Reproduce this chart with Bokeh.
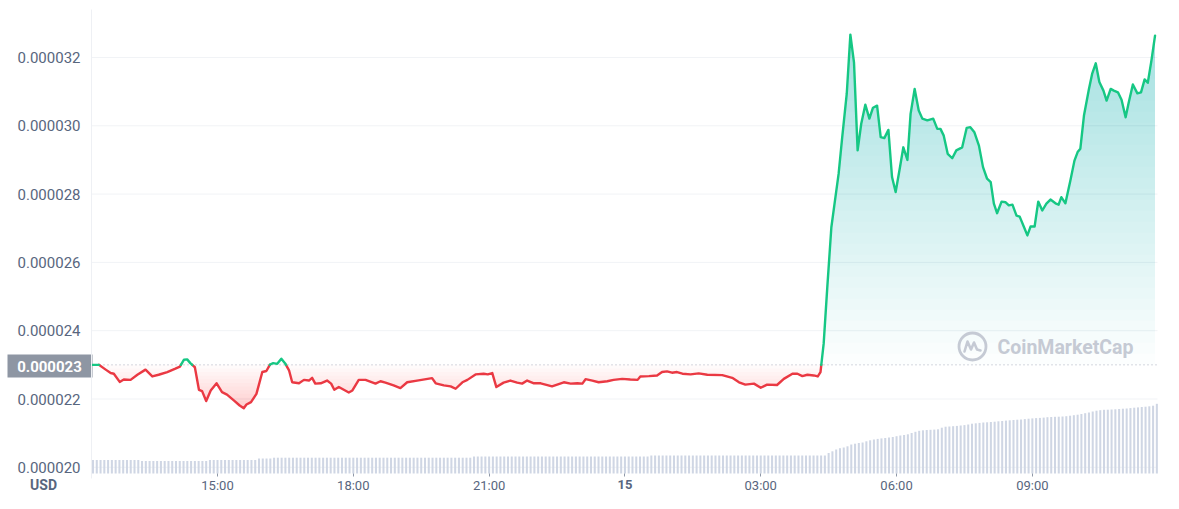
import numpy as np
from bokeh.plotting import figure
from bokeh.models import Range1d, FixedTicker, PrintfTickFormatter, Label
from bokeh.core.properties import value
from bokeh.embed import file_html
from bokeh.resources import INLINE

# ---------------- data ----------------
# time in hours counted from 00:00 on the 14th (24 = 00:00 on the 15th); price in 1e-6 USD
price_time = [
    12.22, 12.38, 12.53, 12.64, 12.71, 12.84, 12.93, 13.08, 13.23, 13.41,
    13.56, 13.70, 13.89, 14.07, 14.17, 14.26, 14.33, 14.40, 14.50, 14.59,
    14.66, 14.75, 14.85, 14.98, 15.10, 15.21, 15.36, 15.49, 15.58, 15.64,
    15.74, 15.86, 15.99, 16.08, 16.16, 16.23, 16.32, 16.41, 16.50, 16.58,
    16.65, 16.80, 16.91, 17.02, 17.09, 17.16, 17.28, 17.42, 17.51, 17.58,
    17.68, 17.79, 17.90, 17.98, 18.12, 18.27, 18.49, 18.60, 18.71, 18.89,
    19.04, 19.19, 19.41, 19.74, 19.82, 20.00, 20.15, 20.26, 20.41, 20.52,
    20.70, 20.88, 20.97, 21.07, 21.16, 21.32, 21.47, 21.62, 21.73, 21.84,
    21.99, 22.14, 22.39, 22.65, 22.80, 22.95, 23.06, 23.13, 23.28, 23.42,
    23.61, 23.75, 23.94, 24.12, 24.28, 24.34, 24.53, 24.71, 24.82, 24.93,
    25.04, 25.15, 25.27, 25.45, 25.63, 25.82, 26.15, 26.37, 26.52, 26.66,
    26.85, 27.00, 27.14, 27.36, 27.51, 27.70, 27.81, 27.92, 28.03, 28.17,
    28.26, 28.32,
    28.39, 28.47, 28.56, 28.65, 28.72, 28.80, 28.90, 28.98, 29.06, 29.14,
    29.22, 29.31, 29.40, 29.48, 29.57, 29.65, 29.73, 29.82, 29.90, 29.98,
    30.07, 30.15, 30.24, 30.31, 30.40, 30.49, 30.57, 30.68, 30.81, 30.90,
    30.97, 31.04, 31.13, 31.23, 31.32, 31.45, 31.55, 31.63, 31.72, 31.82,
    31.91, 32.00, 32.08, 32.15, 32.22, 32.32, 32.41, 32.48, 32.56, 32.65,
    32.72, 32.81, 32.89, 32.96, 33.05, 33.13, 33.22, 33.31, 33.40, 33.51,
    33.58, 33.64, 33.73, 33.84, 33.93, 34.00, 34.06, 34.14, 34.25, 34.32,
    34.40, 34.48, 34.57, 34.64, 34.73, 34.80, 34.89, 34.97, 35.06, 35.13,
    35.22, 35.32, 35.40, 35.48, 35.55, 35.63, 35.71,
]
price_e6 = [
    23.00, 23.00, 22.86, 22.76, 22.74, 22.50, 22.57, 22.56, 22.71, 22.86,
    22.66, 22.71, 22.79, 22.89, 22.95, 23.15, 23.16, 23.05, 22.93, 22.27,
    22.23, 21.94, 22.25, 22.46, 22.20, 22.13, 21.96, 21.81, 21.73, 21.84,
    21.91, 22.15, 22.79, 22.82, 23.01, 23.05, 23.03, 23.18, 23.03, 22.84,
    22.49, 22.46, 22.56, 22.54, 22.62, 22.45, 22.46, 22.54, 22.45, 22.27,
    22.35, 22.27, 22.19, 22.25, 22.56, 22.56, 22.45, 22.52, 22.48, 22.40,
    22.32, 22.49, 22.54, 22.61, 22.46, 22.40, 22.37, 22.30, 22.49, 22.56,
    22.72, 22.74, 22.72, 22.76, 22.35, 22.48, 22.54, 22.48, 22.45, 22.54,
    22.46, 22.46, 22.37, 22.49, 22.45, 22.46, 22.45, 22.58, 22.54, 22.49,
    22.52, 22.56, 22.59, 22.57, 22.56, 22.66, 22.67, 22.69, 22.79, 22.81,
    22.77, 22.79, 22.74, 22.72, 22.75, 22.71, 22.70, 22.62, 22.49, 22.42,
    22.45, 22.33, 22.42, 22.41, 22.59, 22.74, 22.74, 22.67, 22.71, 22.69,
    22.66, 22.79,
    23.62, 25.27, 27.03, 27.91, 28.59, 29.67, 30.94, 32.67, 31.86, 29.28,
    30.06, 30.62, 30.21, 30.53, 30.59, 29.67, 29.64, 29.88, 28.50, 28.06,
    28.74, 29.37, 29.00, 30.35, 31.08, 30.45, 30.21, 30.16, 30.21, 29.91,
    29.91, 29.72, 29.18, 29.05, 29.28, 29.37, 29.94, 29.96, 29.81, 29.42,
    28.79, 28.45, 28.35, 27.72, 27.44, 27.78, 27.76, 27.67, 27.69, 27.37,
    27.34, 27.05, 26.79, 27.05, 27.05, 27.78, 27.52, 27.72, 27.84, 27.73,
    27.69, 27.91, 27.73, 28.40, 28.98, 29.23, 29.33, 30.30, 31.08, 31.52,
    31.83, 31.28, 31.03, 30.74, 31.08, 31.03, 30.98, 30.76, 30.25, 30.69,
    31.21, 30.95, 30.98, 31.36, 31.26, 31.91, 32.64,
]
open_price_e6 = 23.0

# 5-minute volume bars (arbitrary units), first bar at 12:15
vol_start_hour = 12.25
volume = [
    1.35, 1.35, 1.35, 1.35, 1.35, 1.35, 1.35, 1.35, 1.35, 1.35,
    1.35, 1.35, 1.35, 1.25, 1.25, 1.25, 1.25, 1.25, 1.25, 1.25,
    1.25, 1.25, 1.25, 1.25, 1.25, 1.25, 1.25, 1.25, 1.25, 1.25,
    1.25, 1.35, 1.35, 1.35, 1.35, 1.35, 1.35, 1.35, 1.35, 1.35,
    1.35, 1.35, 1.35, 1.35, 1.50, 1.50, 1.50, 1.50, 1.58, 1.58,
    1.58, 1.58, 1.58, 1.58, 1.58, 1.58, 1.58, 1.58, 1.58, 1.58,
    1.58, 1.58, 1.58, 1.58, 1.58, 1.58, 1.58, 1.58, 1.58, 1.58,
    1.58, 1.58, 1.58, 1.58, 1.58, 1.58, 1.58, 1.58, 1.58, 1.58,
    1.58, 1.58, 1.58, 1.58, 1.58, 1.58, 1.58, 1.58, 1.58, 1.58,
    1.58, 1.58, 1.58, 1.58, 1.58, 1.58, 1.58, 1.58, 1.58, 1.58,
    1.58, 1.70, 1.70, 1.70, 1.70, 1.70, 1.70, 1.70, 1.70, 1.70,
    1.70, 1.70, 1.70, 1.70, 1.70, 1.70, 1.70, 1.70, 1.70, 1.70,
    1.70, 1.70, 1.70, 1.70, 1.70, 1.70, 1.70, 1.70, 1.70, 1.70,
    1.70, 1.70, 1.70, 1.70, 1.70, 1.70, 1.70, 1.70, 1.70, 1.70,
    1.70, 1.70, 1.70, 1.70, 1.70, 1.70, 1.70, 1.70, 1.80, 1.80,
    1.80, 1.80, 1.80, 1.80, 1.80, 1.80, 1.80, 1.80, 1.80, 1.80,
    1.80, 1.80, 1.80, 1.80, 1.80, 1.80, 1.80, 1.80, 1.80, 1.80,
    1.80, 1.80, 1.80, 1.80, 1.80, 1.80, 1.80, 1.80, 1.80, 1.80,
    1.80, 1.80, 1.80, 1.80, 1.80, 1.80, 1.80, 1.80, 1.80, 1.80,
    1.80, 1.80, 1.80, 1.80, 1.80, 2.05, 2.22, 2.40, 2.53, 2.60,
    2.72, 2.90, 2.98, 3.05, 3.10, 3.22, 3.32, 3.40, 3.46, 3.51,
    3.55, 3.60, 3.65, 3.73, 3.80, 3.85, 3.92, 4.05, 4.17, 4.27,
    4.32, 4.35, 4.37, 4.39, 4.42, 4.58, 4.68, 4.70, 4.73, 4.76,
    4.80, 4.84, 4.90, 4.98, 5.02, 5.06, 5.10, 5.12, 5.15, 5.18,
    5.22, 5.25, 5.29, 5.32, 5.35, 5.38, 5.40, 5.44, 5.48, 5.51,
    5.54, 5.56, 5.59, 5.63, 5.65, 5.67, 5.68, 5.70, 5.73, 5.78,
    5.83, 5.88, 5.95, 6.03, 6.10, 6.20, 6.28, 6.33, 6.37, 6.38,
    6.40, 6.42, 6.45, 6.48, 6.50, 6.54, 6.58, 6.61, 6.65, 6.68,
    6.72, 6.78, 6.97,
]

y_ticks_e6 = [20, 22, 24, 26, 28, 30, 32]
x_ticks = [15, 18, 21, 24, 27, 30, 33]
x_tick_labels = ["15:00", "18:00", "21:00", "15", "03:00", "06:00", "09:00"]
currency = "USD"
watermark = "CoinMarketCap"

# ---------------- layout helpers (pixel <-> data) ----------------
W, H = 1163, 493
PX_PER_HOUR = 45.27
PX_PER_E6 = 34.15


def hx(px):  # pixel x -> hours
    return 15 + (px - 217) / PX_PER_HOUR


def vy(py):  # pixel y -> price (USD)
    return (32 - (py - 57) / PX_PER_E6) * 1e-6


VOL_BASE_PX = 473


def volr(py):  # pixel y -> volume units (10 px per unit)
    return (VOL_BASE_PX - py) / 10.0


GREEN = "#16c784"
RED = "#ea3943"
GREY_TXT = "#58667e"
FONT = "Roboto"
WM = "#c5cad4"

t = np.array(price_time)
pr = np.array(price_e6) * 1e-6
base = open_price_e6 * 1e-6

# split the price line into above/below-opening pieces (crossing points inserted)
segs = {True: [], False: []}
cx, cy = [t[0]], [pr[0]]
cur = pr[0] >= base
rx, ry = [t[0]], [pr[0]]
for i in range(1, len(t)):
    x0, y0, x1, y1 = t[i - 1], pr[i - 1], t[i], pr[i]
    up = y1 >= base
    if up == cur:
        cx.append(x1); cy.append(y1)
    else:
        f = (base - y0) / (y1 - y0)
        xc = x0 + f * (x1 - x0)
        cx.append(xc); cy.append(base)
        segs[cur].append((cx, cy))
        cx, cy = [xc, x1], [base, y1]
        cur = up
        rx.append(xc); ry.append(base)
    rx.append(x1); ry.append(y1)
segs[cur].append((cx, cy))
rx = np.array(rx); ry = np.array(ry)

p = figure(width=W, height=H,
           x_range=Range1d(hx(0), hx(W)),
           y_range=Range1d(vy(H), vy(0)),
           output_backend="svg", toolbar_location=None,
           min_border_left=0, min_border_right=0, min_border_top=0, min_border_bottom=0,
           background_fill_color="white", border_fill_color="white",
           outline_line_color=None)
p.extra_y_ranges = {"vol": Range1d(volr(H), volr(0))}

x_left, x_right = hx(91), hx(1157)

# horizontal grid lines (only across the plotting area)
p.segment(x0=[x_left] * len(y_ticks_e6), x1=[x_right] * len(y_ticks_e6),
          y0=[v * 1e-6 for v in y_ticks_e6], y1=[v * 1e-6 for v in y_ticks_e6],
          line_color="#f1f3f6", line_width=1)

# volume bars
vol_x = vol_start_hour + np.arange(len(volume)) / 12.0
p.vbar(x=vol_x, top=volume, bottom=0, width=0.045, y_range_name="vol",
       fill_color="#cfd6e4", line_color=None)

# gradient fill above the opening price
top_v = pr.max()
n_g = 30
for k in range(n_g):
    L = base + (top_v - base) * k / n_g
    p.varea(x=rx, y1=np.full(len(rx), L), y2=np.maximum(ry, L),
            fill_color=GREEN, fill_alpha=0.0115)
# gradient fill below the opening price
bot_v = pr.min()
n_r = 12
for k in range(n_r):
    L = base - (base - bot_v) * k / n_r
    p.varea(x=rx, y1=np.minimum(ry, L), y2=np.full(len(rx), L),
            fill_color=RED, fill_alpha=0.018)

# dotted opening-price line
p.segment(x0=[x_left], x1=[x_right], y0=[base], y1=[base],
          line_color="#a9b0bd", line_dash="1 3", line_width=1)

# watermark
wm_x, wm_y = hx(972), vy(346)
p.scatter(x=[wm_x], y=[wm_y], marker="circle", size=27, fill_color=None,
          line_color=WM, line_width=2.8)
mdx = [-8, -5, -1.5, 1.5, 4.5, 8]
mdy = [5, -5, 3, -4, 3, 4]
p.line(x=[hx(972 + d) for d in mdx], y=[vy(346 + d) for d in mdy],
       line_color=WM, line_width=2.6, line_join="round", line_cap="round")
p.text(x=[hx(997)], y=[vy(347)], text=[watermark], text_font=value(FONT),
       text_font_size="19.5px", text_font_style="bold", text_color=WM,
       text_baseline="middle", text_align="left")

# opening-price tag (left of the axis)
p.quad(left=[hx(7)], right=[hx(92)], bottom=[vy(377)], top=[vy(354)],
       fill_color="#8e96a3", line_color=None)
p.text(x=[hx(49)], y=[vy(365.5)], text=["%.6f" % (open_price_e6 * 1e-6)],
       text_font=value(FONT), text_font_size="15px", text_font_style="bold",
       text_color="white", text_align="center", text_baseline="middle")

# price line
p.multi_line(xs=[s[0] for s in segs[False]], ys=[s[1] for s in segs[False]],
             line_color=RED, line_width=2.4, line_join="round", line_cap="round")
p.multi_line(xs=[s[0] for s in segs[True]], ys=[s[1] for s in segs[True]],
             line_color=GREEN, line_width=2.4, line_join="round", line_cap="round")

# ---------------- axes ----------------
p.xgrid.visible = False
p.ygrid.visible = False

ya = p.yaxis[0]
ya.fixed_location = x_left
ya.bounds = (vy(478), vy(9))
ya.ticker = FixedTicker(ticks=[v * 1e-6 for v in y_ticks_e6])
ya.formatter = PrintfTickFormatter(format="%.6f")
ya.major_label_text_font = FONT
ya.major_label_text_font_size = "15px"
ya.major_label_text_color = GREY_TXT
ya.major_tick_in = 0
ya.major_tick_out = 0
ya.minor_tick_in = 0
ya.minor_tick_out = 0
ya.major_tick_line_color = None
ya.minor_tick_line_color = None
ya.axis_line_color = "#eef0f4"
ya.major_label_standoff = 11

xa = p.xaxis[0]
xa.fixed_location = vy(VOL_BASE_PX)
xa.bounds = (x_left, x_right)
xa.ticker = FixedTicker(ticks=x_ticks)
overrides = {tk: lab for tk, lab in zip(x_ticks, x_tick_labels)}
overrides[24] = ""
xa.major_label_overrides = overrides
xa.major_label_text_font = FONT
xa.major_label_text_font_size = "13px"
xa.major_label_text_color = GREY_TXT
xa.axis_line_color = None
xa.major_tick_in = 0
xa.major_tick_out = 3
xa.minor_tick_in = 0
xa.minor_tick_out = 0
xa.major_tick_line_color = "#8f98a8"
xa.minor_tick_line_color = None
xa.major_label_standoff = 1

# bold day label and currency label on the time-axis row
p.add_layout(Label(x=24, y=vy(484), text=x_tick_labels[3], text_font=FONT,
                   text_font_size="13px", text_font_style="bold", text_color=GREY_TXT,
                   text_align="center", text_baseline="middle"))
p.add_layout(Label(x=hx(43), y=vy(484), text=currency, text_font=FONT,
                   text_font_size="14px", text_font_style="bold", text_color=GREY_TXT,
                   text_align="center", text_baseline="middle"))

open("out.html", "w").write(file_html(p, INLINE))
